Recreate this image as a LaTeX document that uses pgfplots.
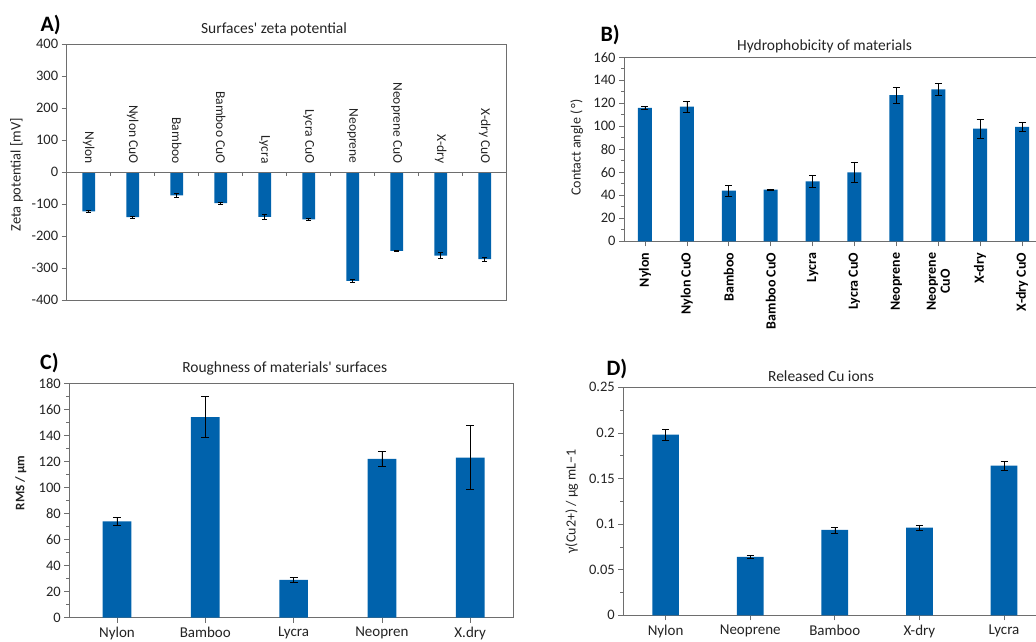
\documentclass[border=0pt]{standalone}
\usepackage{pgfplots}
\pgfplotsset{compat=1.18}
\usepackage{fontspec}
\setmainfont{Carlito}
\definecolor{barblue}{RGB}{0,98,172}
\definecolor{framec}{RGB}{110,110,110}
\definecolor{txt}{RGB}{35,35,35}
\newcommand{\fs}[1]{\fontsize{#1}{#1}\selectfont}
\begin{document}
\begin{tikzpicture}
\path[use as bounding box] (0pt,0pt) rectangle (1036pt,641pt);
\clip (0pt,0pt) rectangle (1036pt,641pt);
\pgfplotsset{
  panel/.style={
    scale only axis,
    anchor=south west,
    enlargelimits=false,
    axis line style={framec, line width=0.7pt},
    tick style={framec, line width=0.7pt},
    tick align=outside,
    major tick length=5pt,
    minor tick length=3pt,
    xtick pos=lower, ytick pos=left,
    ticklabel style={font=\fs{14.5}, text=txt},
    /pgf/number format/assume math mode=true,
    ylabel style={font=\fs{14}, text=txt, anchor=center},
    ybar,
    clip=false,
  },
  ebar/.style={error bars/.cd, y dir=both, y explicit,
     error bar style={black, line width=0.6pt},
     error mark options={rotate=90, black, line width=0.6pt, mark size=#1}},
}
% ---------------- A ----------------
\begin{axis}[panel, at={(66.7pt,341pt)}, width=440pt, height=255.7pt,
  xmin=-0.5, xmax=9.5, ymin=-400, ymax=400, ytick={-400,-300,-200,-100,0,100,200,300,400},
  xtick=\empty, bar width=12.7pt,
  ylabel={Zeta potential [mV]}, ylabel style={font=\fs{14.5}, at={(axis description cs:-0.114,0.49)}}]
\addplot[fill=barblue, draw=none, ebar=2.5pt] table[x=x, y=y, y error=e] {
x y e
0 -123 4
1 -141 2
2 -73 6
3 -97 3
4 -140 9
5 -148 4
6 -340 4
7 -246 2
8 -261 10
9 -272 6
};
\draw[framec, line width=0.7pt] (axis cs:-0.5,0) -- (axis cs:9.5,0);
\pgfplotsinvokeforeach{0.5,1.5,2.5,3.5,4.5,5.5,6.5,7.5,8.5}{\draw[framec, line width=0.7pt] (axis cs:#1,0) -- ++(0pt,-4pt);}
\node[rotate=-90, anchor=east, font=\fs{13.5}, text=txt] at (axis cs:0,16) {Nylon};
\node[rotate=-90, anchor=east, font=\fs{13.5}, text=txt] at (axis cs:1,16) {Nylon CuO};
\node[rotate=-90, anchor=east, font=\fs{13.5}, text=txt] at (axis cs:2,16) {Bamboo};
\node[rotate=-90, anchor=east, font=\fs{13.5}, text=txt] at (axis cs:3,16) {Bamboo CuO};
\node[rotate=-90, anchor=east, font=\fs{13.5}, text=txt] at (axis cs:4,16) {Lycra};
\node[rotate=-90, anchor=east, font=\fs{13.5}, text=txt] at (axis cs:5,16) {Lycra CuO};
\node[rotate=-90, anchor=east, font=\fs{13.5}, text=txt] at (axis cs:6,16) {Neoprene};
\node[rotate=-90, anchor=east, font=\fs{13.5}, text=txt] at (axis cs:7,16) {Neoprene CuO};
\node[rotate=-90, anchor=east, font=\fs{13.5}, text=txt] at (axis cs:8,16) {X-dry};
\node[rotate=-90, anchor=east, font=\fs{13.5}, text=txt] at (axis cs:9,16) {X-dry CuO};
\end{axis}
% ---------------- B ----------------
\begin{axis}[panel, at={(624pt,399.7pt)}, width=419pt, height=184pt,
  xmin=-0.5, xmax=9.5, ymin=0, ymax=160, ytick={0,20,...,160}, minor y tick num=1,
  xtick={0,...,9},
  xticklabels={Nylon,Nylon CuO,Bamboo,Bamboo CuO,Lycra,Lycra CuO,Neoprene,{Neoprene\\CuO},X-dry,X-dry CuO},
  xticklabel style={rotate=90, anchor=east, font=\fs{14}\bfseries, align=center, text=black},
  xticklabel shift=3pt,
  bar width=14pt,
  ylabel={Contact angle (\,°)}, ylabel style={at={(axis description cs:-0.113,0.51)}}]
\addplot[fill=barblue, draw=none, ebar=3.5pt] table[x=x, y=y, y error=e] {
x y e
0 116 1.5
1 117 5
2 44 4.5
3 45 0.6
4 52 5
5 60 9
6 127 7
7 132 5
8 98 8
9 99.5 4
};
\end{axis}
% ---------------- C ----------------
\begin{axis}[panel, at={(69.3pt,23.3pt)}, width=444.2pt, height=234.4pt,
  xmin=-0.54, xmax=4.49, ymin=0, ymax=180, ytick={0,20,...,180}, minor y tick num=1,
  xtick={0,...,4}, xticklabels={Nylon,Bamboo,Lycra,Neopren,X.dry},
  xticklabel style={font=\fs{15}}, xticklabel shift=1pt,
  bar width=28.7pt,
  ylabel={\bfseries RMS / µm}, ylabel style={font=\fs{13}, at={(axis description cs:-0.109,0.575)}}]
\addplot[fill=barblue, draw=none, ebar=4pt] table[x=x, y=y, y error=e] {
x y e
0 74 3
1 154 15.7
2 29 1.7
3 122 5.6
4 123 24.6
};
\end{axis}
% ---------------- D ----------------
\begin{axis}[panel, at={(623.3pt,25.7pt)}, width=423pt, height=228pt,
  xmin=-0.5, xmax=4.5, ymin=0, ymax=0.25, ytick={0,0.05,0.1,0.15,0.2,0.25},
  yticklabels={0,0.05,0.1,0.15,0.2,0.25}, minor y tick num=1,
  xtick={0,...,4}, xticklabels={Nylon,Neoprene,Bamboo,X-dry,Lycra},
  xticklabel style={font=\fs{15}}, xticklabel shift=1pt,
  bar width=26.7pt,
  ylabel={γ(Cu2+) / µg mL−1}, ylabel style={at={(axis description cs:-0.122,0.5)}}]
\addplot[fill=barblue, draw=none, ebar=3.5pt] table[x=x, y=y, y error=e] {
x y e
0 0.198 0.006
1 0.064 0.0017
2 0.0936 0.0033
3 0.0961 0.003
4 0.164 0.005
};
\end{axis}
% ---------------- titles and panel letters ----------------
\node[anchor=base, font=\fs{15.5}, text=txt] at (274pt,607.7pt) {Surfaces\textquotesingle\ zeta potential};
\node[anchor=base west, font=\fs{22}\bfseries] at (37pt,609.5pt) {A)};
\node[anchor=base, font=\fs{15.5}, text=txt] at (824.5pt,590pt) {Hydrophobicity of materials};
\node[anchor=base west, font=\fs{22}\bfseries] at (597pt,599pt) {B)};
\node[anchor=base, font=\fs{15.5}, text=txt] at (284.7pt,268.5pt) {Roughness of materials\textquotesingle\ surfaces};
\node[anchor=base west, font=\fs{22}\bfseries] at (36.7pt,272pt) {C)};
\node[anchor=base, font=\fs{15.5}, text=txt] at (821pt,260pt) {Released Cu ions};
\node[anchor=base west, font=\fs{22}\bfseries] at (603pt,266pt) {D)};
\end{tikzpicture}
\end{document}
